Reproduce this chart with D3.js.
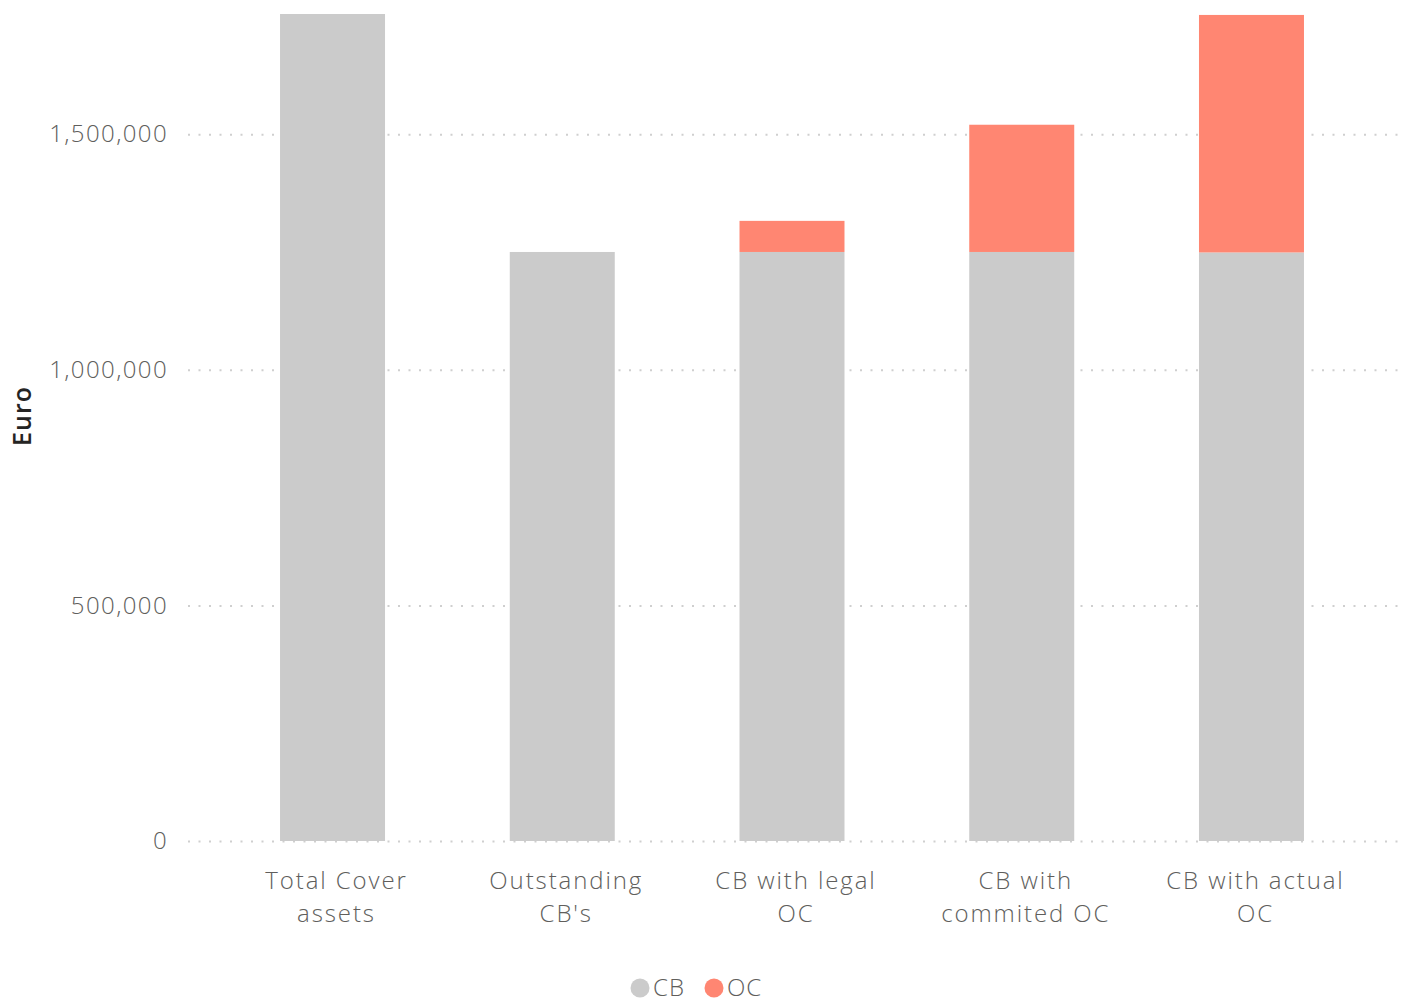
<html>
<head>
  <style>
    body { margin: 0; background: #fff; }
    text { font-family: "Open Sans", "Noto Sans", sans-serif; }
  </style>
  <script src="https://d3js.org/d3.v7.min.js"></script>
</head>
<body>
  <svg></svg>
  <script type="text/javascript">
    // data
    var categories = ["Total Cover assets", "Outstanding CB's", "CB with legal OC", "CB with commited OC", "CB with actual OC"]
    var labelLines = [["Total Cover", "assets"], ["Outstanding", "CB's"], ["CB with legal", "OC"], ["CB with", "commited OC"], ["CB with actual", "OC"]]
    var cbValues = [1755000, 1250000, 1250000, 1250000, 1249000]
    var ocValues = [0, 0, 66000, 270000, 504000]
    var seriesNames = ["CB", "OC"]
    var tickValues = [0, 500000, 1000000, 1500000]

    var colors = ["#cbcbcb", "#ff8672"]

    var w = 1404
    var h = 1004

    var svg = d3.select("svg")
      .attr("width", w)
      .attr("height", h)

    var xScale = d3.scaleBand()
      .domain(categories)
      .range([218, 1366])
      .paddingInner(0.543)
      .paddingOuter(0.27)

    var yScale = d3.scaleLinear()
      .domain([0, 1755000])
      .range([841, 14])

    // gridlines
    svg.append("g").selectAll("line")
      .data(tickValues)
      .enter()
      .append("line")
      .attr("x1", 188)
      .attr("x2", 1400)
      .attr("y1", function(d) { return yScale(d) + 0.5 })
      .attr("y2", function(d) { return yScale(d) + 0.5 })
      .attr("stroke", "#cfcfcf")
      .attr("stroke-width", 2)
      .attr("stroke-dasharray", "2,8.5")

    // stacked bars
    var rows = categories.map(function(c, i) {
      return { cat: c, CB: cbValues[i], OC: ocValues[i] }
    })
    var stacked = d3.stack().keys(seriesNames)(rows)

    svg.append("g").selectAll("g")
      .data(stacked)
      .enter()
      .append("g")
      .attr("fill", function(d, i) { return colors[i] })
      .selectAll("rect")
      .data(function(d) { return d })
      .enter()
      .append("rect")
      .attr("x", function(d) { return xScale(d.data.cat) })
      .attr("width", xScale.bandwidth())
      .attr("y", function(d) { return yScale(d[1]) })
      .attr("height", function(d) { return yScale(d[0]) - yScale(d[1]) })

    // y axis labels
    var yAxis = d3.axisLeft(yScale)
      .tickValues(tickValues)
      .tickSize(0)
      .tickPadding(0)
      .tickFormat(d3.format(","))

    var gy = svg.append("g")
      .attr("transform", "translate(168,0)")
      .call(yAxis)
    gy.select(".domain").remove()
    gy.selectAll("text")
      .attr("fill", "#605e5c")
      .style("font-size", "24px")
      .style("font-family", "Open Sans")
      .style("font-weight", 300)
      .style("letter-spacing", "1.4px")

    // x axis labels, one text per line
    var xl = svg.append("g").selectAll("g")
      .data(categories)
      .enter()
      .append("g")
      .attr("transform", function(d) {
        return "translate(" + (xScale(d) + xScale.bandwidth() / 2 + 4) + ",889)"
      })
    xl.selectAll("text")
      .data(function(d, i) { return labelLines[i] })
      .enter()
      .append("text")
      .attr("y", function(d, i) { return i * 33 })
      .attr("text-anchor", "middle")
      .attr("fill", "#605e5c")
      .style("font-size", "24px")
      .style("font-weight", 300)
      .style("letter-spacing", "1.9px")
      .text(function(d) { return d })

    // y title
    svg.append("text")
      .attr("transform", "translate(31,416) rotate(-90)")
      .attr("text-anchor", "middle")
      .attr("fill", "#252423")
      .style("font-size", "25px")
      .style("font-weight", 600)
      .style("letter-spacing", "1px")
      .text("Euro")

    // legend
    var legendX = [640, 714]
    var lg = svg.append("g").selectAll("g")
      .data(seriesNames)
      .enter()
      .append("g")
      .attr("transform", function(d, i) { return "translate(" + legendX[i] + ",988)" })
    lg.append("circle")
      .attr("r", 9.5)
      .attr("fill", function(d, i) { return colors[i] })
    lg.append("text")
      .attr("x", 13)
      .attr("y", 8)
      .attr("fill", "#605e5c")
      .style("font-size", "24px")
      .style("font-weight", 300)
      .style("letter-spacing", "1px")
      .text(function(d) { return d })
  </script>
</body>
</html>
